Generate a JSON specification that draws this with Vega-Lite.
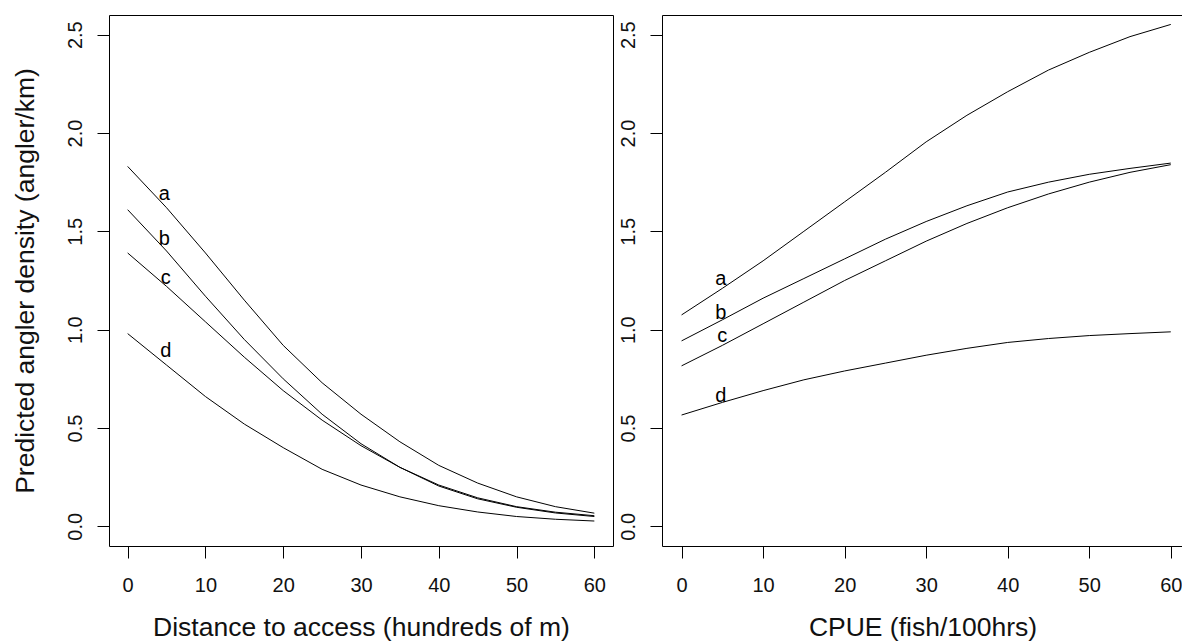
{
  "$schema": "https://vega.github.io/schema/vega-lite/v6.json",
  "padding": {"left": 11, "top": 14, "right": 0, "bottom": 0},
  "background": "white",
  "datasets": {
    "dist": [
      {"curve": "a", "x": 0, "y": 1.83}, {"curve": "a", "x": 5, "y": 1.62}, {"curve": "a", "x": 10, "y": 1.39}, {"curve": "a", "x": 15, "y": 1.15}, {"curve": "a", "x": 20, "y": 0.92}, {"curve": "a", "x": 25, "y": 0.73}, {"curve": "a", "x": 30, "y": 0.57}, {"curve": "a", "x": 35, "y": 0.43}, {"curve": "a", "x": 40, "y": 0.31}, {"curve": "a", "x": 45, "y": 0.22}, {"curve": "a", "x": 50, "y": 0.15}, {"curve": "a", "x": 55, "y": 0.1}, {"curve": "a", "x": 60, "y": 0.067},
      {"curve": "b", "x": 0, "y": 1.61}, {"curve": "b", "x": 5, "y": 1.4}, {"curve": "b", "x": 10, "y": 1.17}, {"curve": "b", "x": 15, "y": 0.95}, {"curve": "b", "x": 20, "y": 0.75}, {"curve": "b", "x": 25, "y": 0.57}, {"curve": "b", "x": 30, "y": 0.42}, {"curve": "b", "x": 35, "y": 0.3}, {"curve": "b", "x": 40, "y": 0.205}, {"curve": "b", "x": 45, "y": 0.14}, {"curve": "b", "x": 50, "y": 0.097}, {"curve": "b", "x": 55, "y": 0.068}, {"curve": "b", "x": 60, "y": 0.05},
      {"curve": "c", "x": 0, "y": 1.39}, {"curve": "c", "x": 5, "y": 1.22}, {"curve": "c", "x": 10, "y": 1.04}, {"curve": "c", "x": 15, "y": 0.86}, {"curve": "c", "x": 20, "y": 0.69}, {"curve": "c", "x": 25, "y": 0.54}, {"curve": "c", "x": 30, "y": 0.41}, {"curve": "c", "x": 35, "y": 0.3}, {"curve": "c", "x": 40, "y": 0.21}, {"curve": "c", "x": 45, "y": 0.145}, {"curve": "c", "x": 50, "y": 0.1}, {"curve": "c", "x": 55, "y": 0.072}, {"curve": "c", "x": 60, "y": 0.054},
      {"curve": "d", "x": 0, "y": 0.98}, {"curve": "d", "x": 5, "y": 0.82}, {"curve": "d", "x": 10, "y": 0.66}, {"curve": "d", "x": 15, "y": 0.52}, {"curve": "d", "x": 20, "y": 0.4}, {"curve": "d", "x": 25, "y": 0.29}, {"curve": "d", "x": 30, "y": 0.21}, {"curve": "d", "x": 35, "y": 0.15}, {"curve": "d", "x": 40, "y": 0.105}, {"curve": "d", "x": 45, "y": 0.073}, {"curve": "d", "x": 50, "y": 0.05}, {"curve": "d", "x": 55, "y": 0.036}, {"curve": "d", "x": 60, "y": 0.027}
    ],
    "cpue": [
      {"curve": "a", "x": 0, "y": 1.075}, {"curve": "a", "x": 5, "y": 1.21}, {"curve": "a", "x": 10, "y": 1.35}, {"curve": "a", "x": 15, "y": 1.5}, {"curve": "a", "x": 20, "y": 1.65}, {"curve": "a", "x": 25, "y": 1.8}, {"curve": "a", "x": 30, "y": 1.955}, {"curve": "a", "x": 35, "y": 2.09}, {"curve": "a", "x": 40, "y": 2.21}, {"curve": "a", "x": 45, "y": 2.32}, {"curve": "a", "x": 50, "y": 2.41}, {"curve": "a", "x": 55, "y": 2.49}, {"curve": "a", "x": 60, "y": 2.552},
      {"curve": "b", "x": 0, "y": 0.943}, {"curve": "b", "x": 5, "y": 1.05}, {"curve": "b", "x": 10, "y": 1.16}, {"curve": "b", "x": 15, "y": 1.26}, {"curve": "b", "x": 20, "y": 1.36}, {"curve": "b", "x": 25, "y": 1.46}, {"curve": "b", "x": 30, "y": 1.55}, {"curve": "b", "x": 35, "y": 1.63}, {"curve": "b", "x": 40, "y": 1.7}, {"curve": "b", "x": 45, "y": 1.75}, {"curve": "b", "x": 50, "y": 1.79}, {"curve": "b", "x": 55, "y": 1.82}, {"curve": "b", "x": 60, "y": 1.847},
      {"curve": "c", "x": 0, "y": 0.816}, {"curve": "c", "x": 5, "y": 0.92}, {"curve": "c", "x": 10, "y": 1.03}, {"curve": "c", "x": 15, "y": 1.14}, {"curve": "c", "x": 20, "y": 1.25}, {"curve": "c", "x": 25, "y": 1.35}, {"curve": "c", "x": 30, "y": 1.45}, {"curve": "c", "x": 35, "y": 1.54}, {"curve": "c", "x": 40, "y": 1.62}, {"curve": "c", "x": 45, "y": 1.69}, {"curve": "c", "x": 50, "y": 1.75}, {"curve": "c", "x": 55, "y": 1.8}, {"curve": "c", "x": 60, "y": 1.839},
      {"curve": "d", "x": 0, "y": 0.566}, {"curve": "d", "x": 5, "y": 0.63}, {"curve": "d", "x": 10, "y": 0.69}, {"curve": "d", "x": 15, "y": 0.745}, {"curve": "d", "x": 20, "y": 0.79}, {"curve": "d", "x": 25, "y": 0.83}, {"curve": "d", "x": 30, "y": 0.87}, {"curve": "d", "x": 35, "y": 0.905}, {"curve": "d", "x": 40, "y": 0.935}, {"curve": "d", "x": 45, "y": 0.955}, {"curve": "d", "x": 50, "y": 0.97}, {"curve": "d", "x": 55, "y": 0.98}, {"curve": "d", "x": 60, "y": 0.989}
    ],
    "distLab": [
      {"curve": "a", "x": 4.7, "y": 1.69},
      {"curve": "b", "x": 4.7, "y": 1.46},
      {"curve": "c", "x": 4.9, "y": 1.264},
      {"curve": "d", "x": 4.9, "y": 0.889}
    ],
    "cpueLab": [
      {"curve": "a", "x": 4.8, "y": 1.256},
      {"curve": "b", "x": 4.8, "y": 1.087},
      {"curve": "c", "x": 5.0, "y": 0.969},
      {"curve": "d", "x": 4.8, "y": 0.664}
    ]
  },
  "hconcat": [
    {
      "width": 504,
      "height": 531,
      "layer": [
        {
          "data": {"name": "dist"},
          "mark": {"type": "line", "color": "black", "strokeWidth": 1},
          "encoding": {
            "x": {"field": "x", "type": "quantitative", "scale": {"domain": [-2.4, 62.4], "nice": false, "zero": false},
                  "axis": {"title": "Distance to access (hundreds of m)", "values": [0, 10, 20, 30, 40, 50, 60], "titleY": 89, "titleBaseline": "alphabetic", "labelBaseline": "alphabetic", "labelPadding": 33}},
            "y": {"field": "y", "type": "quantitative", "scale": {"domain": [-0.1, 2.6], "nice": false, "zero": false},
                  "axis": {"title": "Predicted angler density (angler/km)", "values": [0, 0.5, 1, 1.5, 2, 2.5], "format": ".1f", "labelAngle": -90, "labelAlign": "center", "labelBaseline": "alphabetic", "labelPadding": 16, "titleX": -76, "titleY": 265.5, "titleAngle": -90, "titleAlign": "center", "titleBaseline": "alphabetic"}},
            "detail": {"field": "curve"}
          }
        },
        {
          "data": {"name": "distLab"},
          "mark": {"type": "text", "fontSize": 20, "font": "Liberation Sans", "color": "black", "baseline": "middle", "align": "center"},
          "encoding": {
            "x": {"field": "x", "type": "quantitative"},
            "y": {"field": "y", "type": "quantitative"},
            "text": {"field": "curve"}
          }
        }
      ]
    },
    {
      "width": 521,
      "height": 531,
      "layer": [
        {
          "data": {"name": "cpue"},
          "mark": {"type": "line", "color": "black", "strokeWidth": 1},
          "encoding": {
            "x": {"field": "x", "type": "quantitative", "scale": {"domain": [-2.4, 61.5], "nice": false, "zero": false},
                  "axis": {"title": "CPUE (fish/100hrs)", "values": [0, 10, 20, 30, 40, 50, 60], "titleY": 89, "titleBaseline": "alphabetic", "labelBaseline": "alphabetic", "labelPadding": 33}},
            "y": {"field": "y", "type": "quantitative", "scale": {"domain": [-0.1, 2.6], "nice": false, "zero": false},
                  "axis": {"title": null, "values": [0, 0.5, 1, 1.5, 2, 2.5], "format": ".1f", "labelAngle": -90, "labelAlign": "center", "labelBaseline": "alphabetic", "labelPadding": 16}},
            "detail": {"field": "curve"}
          }
        },
        {
          "data": {"name": "cpueLab"},
          "mark": {"type": "text", "fontSize": 20, "font": "Liberation Sans", "color": "black", "baseline": "middle", "align": "center"},
          "encoding": {
            "x": {"field": "x", "type": "quantitative"},
            "y": {"field": "y", "type": "quantitative"},
            "text": {"field": "curve"}
          }
        }
      ]
    }
  ],
  "spacing": 49,
  "bounds": "flush",
  "config": {
    "view": {"stroke": "black", "strokeWidth": 1},
    "axis": {
      "grid": false,
      "domain": false,
      "tickSize": 12,
      "tickColor": "black",
      "tickWidth": 1,
      "labelFont": "Liberation Sans",
      "labelFontSize": 20,
      "labelColor": "#111111",
      "labelOverlap": false,
      "labelFlush": false,
      "titleFont": "Liberation Sans",
      "titleFontSize": 26.5,
      "titleFontWeight": "normal",
      "titleColor": "#111111"
    }
  }
}
